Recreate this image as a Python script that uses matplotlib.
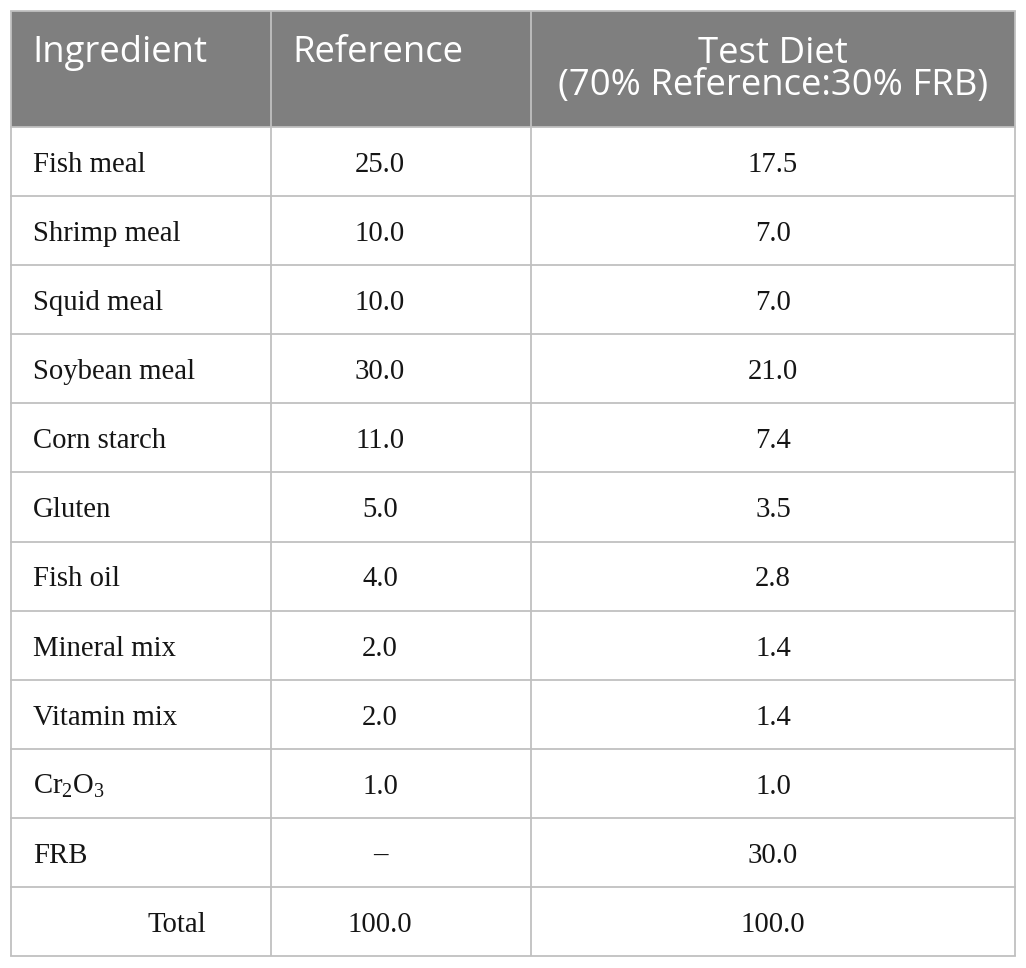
import matplotlib
matplotlib.use('Agg')
import matplotlib.pyplot as plt
from matplotlib.patches import Rectangle

plt.rcParams['mathtext.fontset'] = 'custom'
plt.rcParams['mathtext.rm'] = 'Liberation Serif'

# table content
ingredients = ['Fish meal', 'Shrimp meal', 'Squid meal', 'Soybean meal', 'Corn starch',
               'Gluten', 'Fish oil', 'Mineral mix', 'Vitamin mix', r'$\mathrm{Cr_2O_3}$', 'FRB']
reference = [25.0, 10.0, 10.0, 30.0, 11.0, 5.0, 4.0, 2.0, 2.0, 1.0, None]
test_diet = [17.5, 7.0, 7.0, 21.0, 7.4, 3.5, 2.8, 1.4, 1.4, 1.0, 30.0]
headers = ['Ingredient', 'Reference', 'Test Diet\n(70% Reference:30% FRB)']
total_label = 'Total'
total_ref = 100.0
total_test = 100.0

W, H = 1026, 968
fig = plt.figure(figsize=(W / 100, H / 100), dpi=100)
ax = fig.add_axes([0, 0, 1, 1])
ax.set_xlim(0, W)
ax.set_ylim(H, 0)
ax.axis('off')

col_x = [11, 271, 531, 1015]
top, head_bot, bottom = 11, 127, 956
n_rows = len(ingredients) + 1
row_h = (bottom - head_bot) / n_rows

head_col = '#7f7f7f'
line_col = '#c0c0c0'
txt_col = '#151515'
sans = 'Open Sans'
serif = 'Liberation Serif'
hfs, bfs = 26.3, 20.7

ax.add_patch(Rectangle((col_x[0], top), col_x[-1] - col_x[0], head_bot - top,
                       facecolor=head_col, edgecolor='none'))

# grid lines
for x in col_x:
    ax.plot([x, x], [top, bottom], color=line_col, lw=1.3, solid_capstyle='butt')
ax.plot([col_x[0], col_x[-1]], [top, top], color=line_col, lw=1.3)
for i in range(n_rows + 1):
    y = head_bot + i * row_h
    ax.plot([col_x[0], col_x[-1]], [y, y], color=line_col, lw=1.3)

# header
ax.text(32, 62, headers[0], fontsize=hfs, family=sans, color='white', va='baseline', ha='left')
ax.text(292, 62, headers[1], fontsize=hfs, family=sans, color='white', va='baseline', ha='left')
ax.text(773, 95, headers[2], fontsize=hfs, family=sans, color='white', va='baseline',
        ha='center', multialignment='center', linespacing=0.85)

def fmt(v):
    return '\u2013' if v is None else f'{v:.1f}'

c2, c3 = 380, 773
for i, (name, r, t) in enumerate(zip(ingredients, reference, test_diet)):
    yb = head_bot + i * row_h + 45
    ax.text(33, yb, name, fontsize=bfs, family=serif, color=txt_col, va='baseline')
    ax.text(c2, yb, fmt(r), fontsize=bfs, family=serif, color=txt_col, va='baseline', ha='center')
    ax.text(c3, yb, fmt(t), fontsize=bfs, family=serif, color=txt_col, va='baseline', ha='center')

yb = head_bot + len(ingredients) * row_h + 45
ax.text(148, yb, total_label, fontsize=bfs, family=serif, color=txt_col, va='baseline')
ax.text(c2, yb, fmt(total_ref), fontsize=bfs, family=serif, color=txt_col, va='baseline', ha='center')
ax.text(c3, yb, fmt(total_test), fontsize=bfs, family=serif, color=txt_col, va='baseline', ha='center')

fig.savefig('out.png', dpi=100, facecolor='white')
